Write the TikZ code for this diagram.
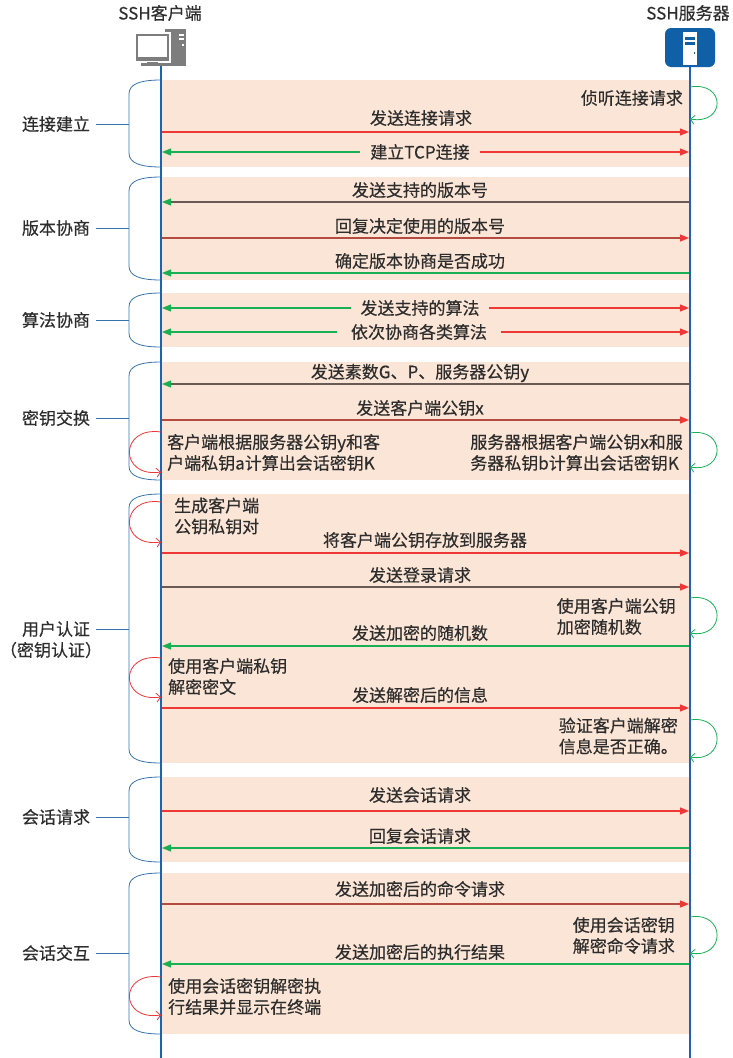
\documentclass[tikz,border=0pt]{standalone}
\usepackage{fontspec}
\setmainfont{Noto Sans CJK SC}[FakeBold=0.4]
\usetikzlibrary{arrows.meta}

\definecolor{bandfill}{RGB}{251,229,214}
\definecolor{lifeblue}{RGB}{30,100,172}
\definecolor{srvblue}{RGB}{16,96,168}
\definecolor{bracecol}{RGB}{55,115,170}
\definecolor{msgred}{RGB}{240,55,55}
\definecolor{msggreen}{RGB}{25,175,85}
\definecolor{msgdark}{RGB}{105,90,85}
\definecolor{msgbrown}{RGB}{180,75,65}
\definecolor{txtgray}{RGB}{45,45,45}
\definecolor{icongray}{RGB}{125,125,125}

\tikzset{
  txt/.style={font=\fontsize{17}{21}\selectfont, text=txtgray, inner sep=1pt},
  phase/.style={txt, anchor=east, outer sep=5pt},
  lifeline/.style={draw=lifeblue, line width=2.5pt},
  bracket/.style={draw=bracecol, line width=0.8pt},
  toserver/.style={draw=#1, line width=1.1pt, -{Triangle[length=9pt,width=7pt,color=msgred]}},
  toserver/.default=msgred,
  toclient/.style={draw=#1, line width=1.1pt, -{Triangle[length=9pt,width=7pt,color=msggreen]}},
  toclient/.default=msggreen,
  selfc/.style={draw=msgred, line width=0.8pt, -{Straight Barb[length=4pt,width=9pt]}},
  selfs/.style={draw=msggreen, line width=0.8pt, -{Straight Barb[length=4pt,width=9pt]}},
}

\begin{document}
\begin{tikzpicture}[x=1pt,y=-1pt]
  \useasboundingbox (0,0) rectangle (733,1058);
  %% bands and brackets
  \foreach \n/\t/\b/\m in {1/80/167/124, 2/177/280/228, 3/293/347/320, 4/362/480/418,
      5/494/763/629, 6/777/862/817, 7/873/1034/953} {
    \fill[bandfill] (161,\t) rectangle (690,\b);
    \draw[bracket] (161,\t) .. controls (140,\t) and (129,\t+4) .. (129,\t+14)
      -- (129,\b-14) .. controls (129,\b-4) and (140,\b) .. (161,\b);
    \coordinate (b\n) at (129,\m);
  }
  %% icons
  \fill[icongray] (165,29) rectangle (186,66);
  \fill[white] (179,34) rectangle (184,35.5);
  \fill[white] (179,38) rectangle (184,39.5);
  \fill[white] (182,44) rectangle (183.5,45.5);
  \filldraw[fill=icongray, draw=white, line width=1.5pt] (135,33) rectangle (170,62);
  \fill[white] (138,36) rectangle (167,57);
  \fill[icongray] (147,62) rectangle (158,64);
  \fill[icongray] (141,63) rectangle (170,66);
  \fill[srvblue, rounded corners=6pt] (665,28) rectangle (715,67);
  \fill[white] (683,32) rectangle (697,65);
  \fill[srvblue] (685,37) rectangle (695,40);
  \fill[srvblue] (685,42) rectangle (695,45);
  \fill[srvblue] (693.5,52) rectangle (695,54);
  \node[txt] (client) at (160,13) {SSH客户端};
  \node[txt] (server) at (688,13) {SSH服务器};
  %% lifelines
  \coordinate (cTop) at (161,66);
  \coordinate (cBot) at (161,1058);
  \coordinate (sTop) at (690,67);
  \coordinate (sBot) at (690,1058);
  \draw[lifeline] (cTop) -- (cBot);
  \draw[lifeline] (sTop) -- (sBot);
  %% phase labels
  \node[phase] (lab1) at (96,124) {连接建立};
  \node[phase] (lab2) at (96,228) {版本协商};
  \node[phase] (lab3) at (96,320) {算法协商};
  \node[phase] (lab4) at (96,418) {密钥交换};
  \node[phase] (lab5) at (96,629) {用户认证};
  \node[txt] (lab5b) at (51,650) {（密钥认证）};
  \node[phase] (lab6) at (96,817) {会话请求};
  \node[phase] (lab7) at (96,953) {会话交互};
  \foreach \n in {1,...,7}
    \draw[bracket] (lab\n.east) -- (b\n);
  %% message ends
  \foreach \n/\y in {1/132, 2/152, 3/202, 4/238, 5/273, 6/308, 7/332, 8/384, 9/420,
      10/553, 11/587, 12/646, 13/708, 14/811, 15/848, 16/904, 17/964} {
    \coordinate (c\n) at (162,\y);
    \coordinate (s\n) at (689,\y);
  }
  %% self loop ends
  \foreach \n/\t/\b in {1/432/472, 2/502/542, 3/658/697, 4/977/1015} {
    \coordinate (cla\n) at (161,\t);
    \coordinate (clb\n) at (161,\b);
  }
  \foreach \n/\t/\b in {1/87/119, 2/433/467, 3/598/633, 4/720/757, 5/917/953} {
    \coordinate (sla\n) at (690,\t);
    \coordinate (slb\n) at (690,\b);
  }
  \foreach \n in {1,...,4}
    \draw[selfc] (cla\n) .. controls +(-42,-6) and +(-42,6) .. (clb\n);
  \foreach \n in {1,...,5}
    \draw[selfs] (sla\n) .. controls +(36,-6) and +(36,6) .. (slb\n);

  %% connection
  \node[txt, anchor=east] (r1) at (684,98) {侦听连接请求};
  \node[txt] (t1) at (421,118) {发送连接请求};
  \draw[toserver] (c1) -- (s1);
  \node[txt, inner xsep=10pt] (t2) at (420,152) {建立TCP连接};
  \draw[toclient] (t2.west) -- (c2);
  \draw[toserver] (t2.east) -- (s2);
  %% version
  \node[txt] (t3) at (420,190) {发送支持的版本号};
  \draw[toclient=msgdark] (s3) -- (c3);
  \node[txt] (t4) at (420,226) {回复决定使用的版本号};
  \draw[toserver=msgbrown] (c4) -- (s4);
  \node[txt] (t5) at (420,261) {确定版本协商是否成功};
  \draw[toclient] (s5) -- (c5);
  %% algorithms
  \node[txt, inner xsep=9pt] (t6) at (420,308) {发送支持的算法};
  \draw[toclient] (t6.west) -- (c6);
  \draw[toserver] (t6.east) -- (s6);
  \node[txt, inner xsep=14pt] (t7) at (419,332) {依次协商各类算法};
  \draw[toclient] (t7.west) -- (c7);
  \draw[toserver] (t7.east) -- (s7);
  %% key exchange
  \node[txt] (t8) at (420,373) {发送素数G、P、服务器公钥y};
  \draw[toclient=msgdark] (s8) -- (c8);
  \node[txt] (t9) at (420,408) {发送客户端公钥x};
  \draw[toserver=msgbrown] (c9) -- (s9);
  \node[txt, anchor=west, align=left] (l1) at (166,452.5) {客户端根据服务器公钥y和客\\户端私钥a计算出会话密钥K};
  \node[txt, anchor=east, align=left] (r2) at (684,452.5) {服务器根据客户端公钥x和服\\务器私钥b计算出会话密钥K};
  %% user authentication
  \node[txt, anchor=west, align=left] (l2) at (173,516) {生成客户端\\公钥私钥对};
  \node[txt] (t10) at (425,540) {将客户端公钥存放到服务器};
  \draw[toserver] (c10) -- (s10);
  \node[txt] (t11) at (420,575) {发送登录请求};
  \draw[toserver=msgdark] (c11) -- (s11);
  \node[txt, anchor=east, align=left] (r3) at (677,616.5) {使用客户端公钥\\加密随机数};
  \node[txt] (t12) at (420,633) {发送加密的随机数};
  \draw[toclient] (s12) -- (c12);
  \node[txt, anchor=west, align=left] (l3) at (167,676.5) {使用客户端私钥\\解密密文};
  \node[txt] (t13) at (420,695) {发送解密后的信息};
  \draw[toserver] (c13) -- (s13);
  \node[txt, anchor=east, align=left] (r4) at (679,736) {验证客户端解密\\信息是否正确。};
  %% session request
  \node[txt] (t14) at (420,795) {发送会话请求};
  \draw[toserver] (c14) -- (s14);
  \node[txt] (t15) at (420,836) {回复会话请求};
  \draw[toclient] (s15) -- (c15);
  %% session interaction
  \node[txt] (t16) at (420,889) {发送加密后的命令请求};
  \draw[toserver=msgbrown] (c16) -- (s16);
  \node[txt, anchor=east, align=left] (r5) at (676,935.5) {使用会话密钥\\解密命令请求};
  \node[txt] (t17) at (420,952) {发送加密后的执行结果};
  \draw[toclient] (s17) -- (c17);
  \node[txt, anchor=west, align=left] (l4) at (167,996.5) {使用会话密钥解密执\\行结果并显示在终端};
\end{tikzpicture}
\end{document}
